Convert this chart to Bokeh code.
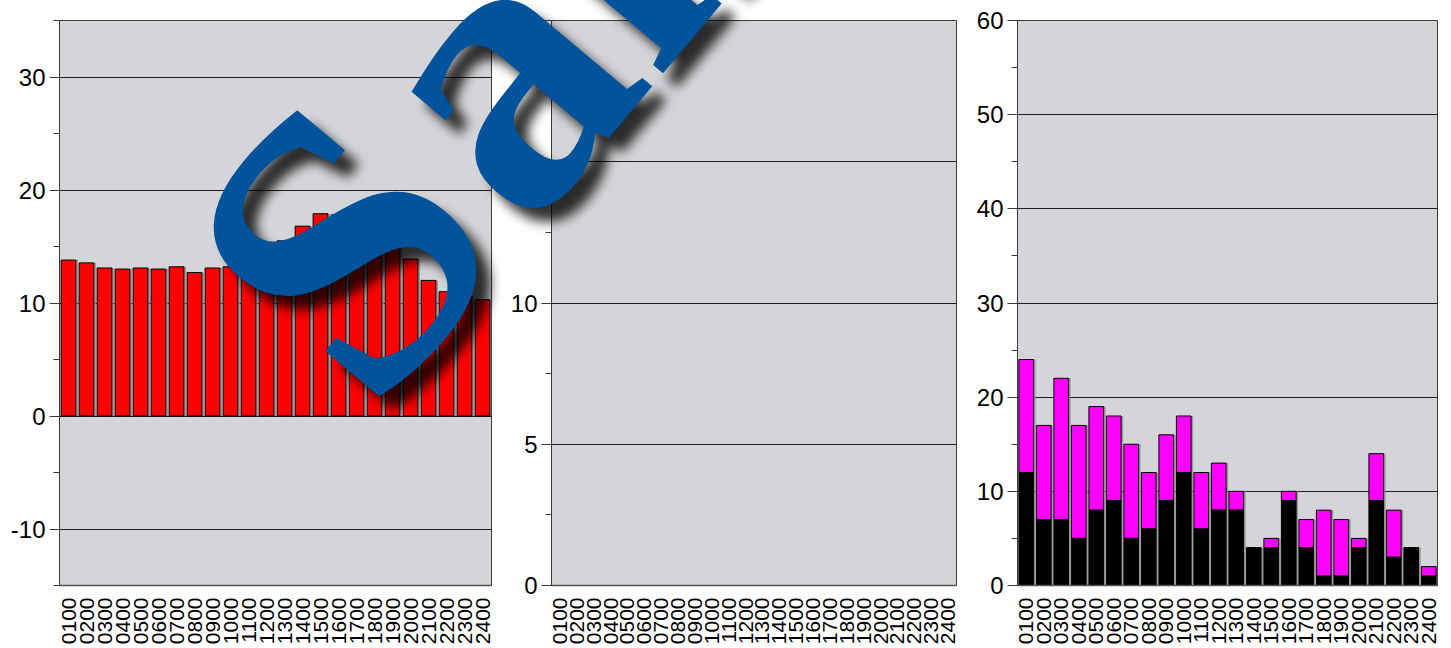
import math
from bokeh.plotting import figure
from bokeh.layouts import row, column
from bokeh.models import SingleIntervalTicker, FactorRange, ColumnDataSource, Div
from bokeh.transform import dodge
from bokeh.embed import file_html
from bokeh.resources import INLINE

hours = ["0100", "0200", "0300", "0400", "0500", "0600", "0700", "0800",
         "0900", "1000", "1100", "1200", "1300", "1400", "1500", "1600",
         "1700", "1800", "1900", "2000", "2100", "2200", "2300", "2400"]

left_values = [13.8, 13.55, 13.1, 13.0, 13.1, 13.0, 13.2, 12.7, 13.1, 13.2,
               13.7, 14.4, 15.5, 16.8, 17.9, 17.8, 17.2, 16.3, 15.2, 13.9,
               12.0, 11.0, 10.6, 10.3]

middle_values = [0, 0, 0, 0, 0, 0, 0, 0, 0, 0, 0, 0,
                 0, 0, 0, 0, 0, 0, 0, 0, 0, 0, 0, 0]

right_black = [12, 7, 7, 5, 8, 9, 5, 6, 9, 12, 6, 8,
               8, 4, 4, 9, 4, 1, 1, 4, 9, 3, 4, 1]
right_total = [24, 17, 22, 17, 19, 18, 15, 12, 16, 18, 12, 13,
               10, 4, 5, 10, 7, 8, 7, 5, 14, 8, 4, 2]

left_ticks = dict(start=-15, end=35, interval=10)
middle_ticks = dict(start=0, end=20, interval=5)
right_ticks = dict(start=0, end=60, interval=10)

watermark_text = "Sample"

FONT = "Liberation Sans"
H = 648


def make_fig(width, border_left, border_right, yr):
    p = figure(x_range=FactorRange(factors=hours, range_padding=0),
               y_range=(yr["start"], yr["end"]),
               width=width, height=H, output_backend="svg",
               toolbar_location=None,
               min_border_left=border_left, min_border_right=border_right,
               min_border_top=20, min_border_bottom=63)
    p.background_fill_color = "#d4d5d8"
    p.border_fill_color = "white"
    p.outline_line_color = "#3a3a3a"
    p.outline_line_width = 1
    p.xgrid.grid_line_color = None
    tk = SingleIntervalTicker(interval=yr["interval"], num_minor_ticks=2)
    p.yaxis.ticker = tk
    p.ygrid.ticker = tk
    p.ygrid.grid_line_color = "#1e1e1e"
    p.ygrid.grid_line_width = 1
    ya = p.yaxis[0]
    ya.axis_line_color = "#3a3a3a"
    ya.major_tick_line_color = "#3a3a3a"
    ya.minor_tick_line_color = "#3a3a3a"
    ya.major_tick_out = 10
    ya.major_tick_in = 0
    ya.minor_tick_out = 6
    ya.minor_tick_in = 0
    ya.major_label_standoff = 4
    ya.major_label_text_font = FONT
    ya.major_label_text_font_size = "24px"
    ya.major_label_text_color = "black"
    ya.major_label_overrides = {-10: "-10"}
    xa = p.xaxis[0]
    xa.axis_line_color = "#555555"
    xa.axis_line_width = 1.5
    xa.major_tick_line_color = None
    xa.minor_tick_line_color = None
    xa.major_tick_out = 0
    xa.major_tick_in = 0
    xa.major_label_standoff = 12
    xa.major_label_orientation = math.pi / 2
    xa.major_label_text_font = FONT
    xa.major_label_text_font_size = "21px"
    xa.major_label_text_color = "black"
    return p


# left
src1 = ColumnDataSource(dict(x=hours, top=left_values))
p1 = make_fig(497, 59, 6, left_ticks)
p1.vbar(x=dodge("x", 0.12, range=p1.x_range), top="top", width=0.82, source=src1,
        fill_color="#8a8a8a", fill_alpha=0.75, line_color=None)
p1.vbar(x="x", top="top", width=0.82, source=src1,
        fill_color="#ff0000", line_color="black", line_width=1)

# middle
src2 = ColumnDataSource(dict(x=hours, top=middle_values))
p2 = make_fig(465, 54, 6, middle_ticks)
p2.vbar(x="x", top="top", width=0.82, source=src2,
        fill_color="#ff0000", line_color=None)

# right
right_magenta = [t - b for t, b in zip(right_total, right_black)]
src3 = ColumnDataSource(dict(x=hours, black=right_black, total=right_total,
                             magenta=right_magenta))
p3 = make_fig(488, 55, 13, right_ticks)
p3.vbar(x=dodge("x", 0.12, range=p3.x_range), top="total", width=0.84, source=src3,
        fill_color="#8a8a8a", fill_alpha=0.75, line_color=None)
p3.vbar(x="x", bottom="black", top="total", width=0.84, source=src3,
        fill_color="#ff00ff", line_color="black", line_width=1)
p3.vbar(x="x", bottom=0, top="black", width=0.84, source=src3,
        fill_color="#000000", line_color="black", line_width=1)

# watermark stamped over the charts (rotated text with soft shadow)
ox, oy, rot = 368, 414, -50
font_css = ("font-family:'Liberation Serif','DejaVu Serif',serif;"
            "font-weight:bold;font-style:normal;font-size:400px")
wm_svg = (
    '<svg xmlns="http://www.w3.org/2000/svg" width="1450" height="648" '
    f'style="position:absolute;left:0;top:-{H}px;overflow:visible;pointer-events:none">'
    '<defs><filter id="wmblur" x="-30%" y="-30%" width="160%" height="160%">'
    '<feGaussianBlur stdDeviation="6"/></filter></defs>'
    f'<g transform="translate(14,14)"><text x="{ox}" y="{oy}" dx="0 18" transform="rotate({rot} {ox} {oy})" '
    f'style="{font_css}" '
    f'fill="#000000" fill-opacity="0.8" filter="url(#wmblur)">{watermark_text}</text></g>'
    f'<text x="{ox}" y="{oy}" dx="0 18" transform="rotate({rot} {ox} {oy})" '
    f'style="{font_css}" '
    f'fill="#01539c">{watermark_text}</text>'
    '</svg>'
)
wm = Div(text=wm_svg, width=1450, height=0,
         styles={"position": "relative", "z-index": "10", "overflow": "visible"})

layout = column(row(p1, p2, p3, spacing=0), wm, spacing=0)
open("out.html", "w").write(file_html(layout, INLINE))
